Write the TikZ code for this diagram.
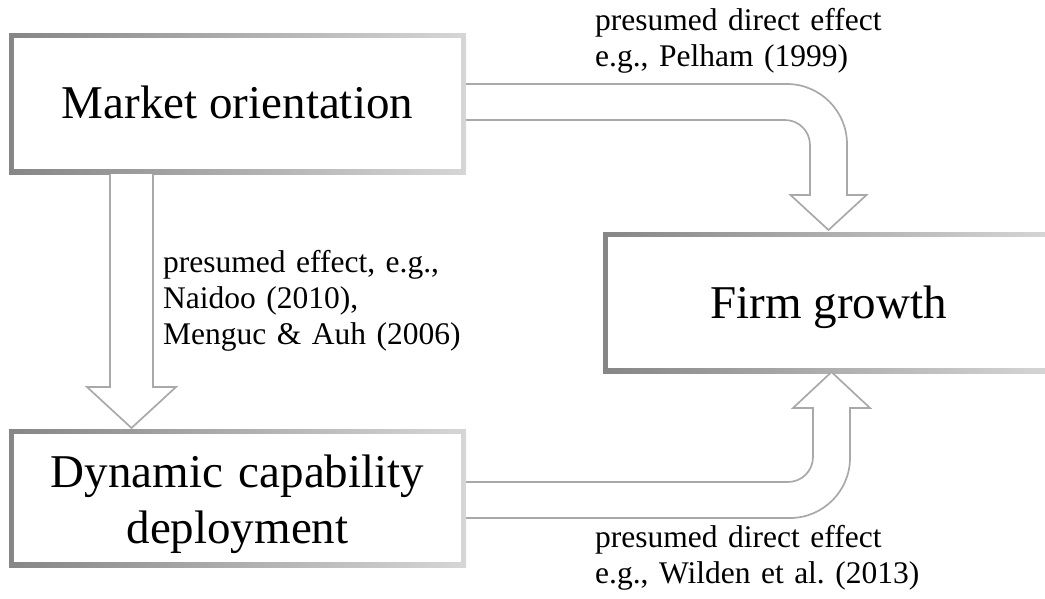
\documentclass[tikz,border=0pt]{standalone}
\usepackage{fontspec}
\setmainfont{Liberation Serif}
\frenchspacing
\definecolor{bdark}{HTML}{868686}
\definecolor{blight}{HTML}{D6D6D6}
\definecolor{arrowgray}{HTML}{A9A9A9}
\tikzset{
  gbox/.style={rectangle, inner sep=0pt, path picture={
    \shade[left color=bdark, right color=blight]
      (path picture bounding box.south west) rectangle (path picture bounding box.north east);
    \fill[white] ([shift={(5pt,5pt)}]path picture bounding box.south west)
      rectangle ([shift={(-5pt,-5pt)}]path picture bounding box.north east);}},
  boxtext/.style={font=\fontsize{47}{56}\selectfont, inner sep=0pt},
  lbl/.style={font=\fontsize{31.5}{36}\selectfont, inner sep=0pt, align=left, text width=330pt, anchor=base west},
  blockarrow/.style={draw=arrowgray, line width=1.7pt, fill=white, line join=miter}
}
\begin{document}
\begin{tikzpicture}[x=1pt,y=-1pt]
\useasboundingbox (0,0) rectangle (1045,598);
% boxes
\node[gbox, minimum width=457pt, minimum height=141pt] (mo) at (237.5,103.5) {};
\node[gbox, minimum width=457pt, minimum height=138pt] (dc) at (237.5,498) {};
\node[gbox, minimum width=451pt, minimum height=141pt] (fg) at (828.5,302.5) {};
% box texts
\node[boxtext, anchor=base] (motext) at (237.5,118) {Market orientation};
\node[boxtext, anchor=base] (fgtext) at (828.5,318) {Firm growth};
\node[boxtext, anchor=base, text width=440pt, align=center] (dctext) at (237.5,487) {Dynamic capability\\deployment};
% block arrows
\filldraw[blockarrow] (mo.east |- 0,84) -- (787,84) .. controls (820,84) and (847,111) .. (847,144)
  -- (847,195) -- (866.5,195) -- (828.5,230) -- (790.5,195) -- (810,195) -- (810,145)
  .. controls (810,131.2) and (798.8,120) .. (785,120) -- (mo.east |- 0,120);
\filldraw[blockarrow] (mo.south -| 110,0) -- (110,387) -- (87,387) -- (131.5,428) -- (176,387)
  -- (153,387) -- (mo.south -| 153,0);
\filldraw[blockarrow] (dc.east |- 0,482) -- (788,482) .. controls (801.8,482) and (813,470.8) .. (813,457)
  -- (813,408) -- (793,408) -- (831.5,372) -- (870,408) -- (850,408) -- (850,458)
  .. controls (850,491) and (823,518) .. (790,518) -- (dc.east |- 0,518);
% labels
\node[lbl] (ltop) at (595,30) {presumed direct effect\\e.g., Pelham (1999)};
\node[lbl] (lmid) at (163,272) {presumed effect, e.g.,\\Naidoo (2010),\\Menguc \& Auh (2006)};
\node[lbl] (lbot) at (595,547) {presumed direct effect\\e.g., Wilden et al. (2013)};
\end{tikzpicture}
\end{document}
